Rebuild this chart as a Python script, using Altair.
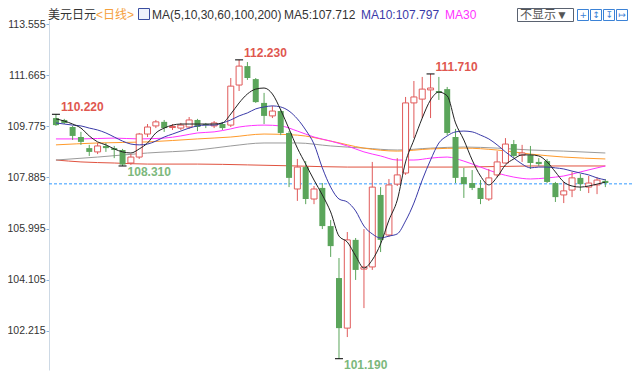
import altair as alt
import pandas as pd

# ---------------- data ----------------
idx = list(range(1, 68))
opens = [110.08, 110.01, 109.75, 109.38, 108.97, 108.83, 109.05, 108.97, 108.90, 108.42,
         108.64, 109.49, 109.79, 109.94, 109.73, 109.71, 109.75, 110.01, 109.86, 109.79,
         109.86, 109.82, 111.30, 112.00, 111.52, 110.64, 110.16, 110.34, 109.53, 107.46,
         108.27, 107.09, 107.50, 106.09, 104.17, 102.32, 105.58, 104.50, 104.58, 107.24,
         105.76, 107.64, 108.05, 110.64, 110.78, 111.12, 111.08, 111.15, 109.38, 107.90,
         107.68, 107.50, 107.09, 107.98, 108.42, 109.12, 108.71, 108.71, 108.46, 108.49,
         107.68, 107.24, 107.42, 107.87, 107.53, 107.61, 107.76]
closes = [109.82, 109.90, 109.42, 109.20, 108.83, 109.05, 108.97, 108.90, 108.36, 108.64,
          109.49, 109.75, 109.94, 109.71, 109.77, 109.82, 110.01, 109.75, 109.82, 109.90,
          109.71, 111.26, 112.00, 111.56, 110.67, 110.16, 110.34, 109.53, 107.87, 108.27,
          107.09, 107.46, 106.09, 105.35, 102.32, 105.58, 104.47, 104.58, 107.53, 105.58,
          107.61, 107.98, 110.64, 110.86, 111.15, 111.19, 111.01, 109.53, 107.87, 107.64,
          107.50, 107.09, 107.87, 108.46, 109.12, 108.68, 108.79, 108.42, 108.38, 107.72,
          107.16, 107.39, 107.87, 107.64, 107.68, 107.79, 107.68]
highs = [110.22, 110.05, 109.79, 109.57, 109.09, 109.16, 109.16, 109.05, 108.94, 108.75,
         109.53, 109.86, 110.01, 110.01, 109.86, 109.90, 110.12, 110.05, 109.90, 109.97,
         109.94, 111.56, 112.23, 112.15, 111.56, 111.01, 110.53, 110.42, 109.60, 108.57,
         108.49, 107.57, 107.68, 106.31, 104.91, 105.87, 105.65, 105.98, 108.46, 107.53,
         107.83, 108.60, 110.86, 111.45, 111.60, 111.71, 111.60, 111.23, 109.68, 108.24,
         108.16, 107.79, 108.20, 108.86, 109.34, 109.27, 109.09, 109.05, 108.60, 108.57,
         107.72, 107.72, 108.09, 108.01, 107.94, 107.90, 107.83]
lows = [109.79, 109.86, 109.27, 109.09, 108.68, 108.75, 108.83, 108.60, 108.31, 108.35,
        108.57, 109.38, 109.71, 109.57, 109.64, 109.64, 109.68, 109.60, 109.71, 109.71,
        109.64, 109.75, 111.08, 111.49, 110.64, 109.86, 110.08, 109.45, 107.53, 107.02,
        106.90, 106.90, 105.98, 104.95, 101.19, 101.99, 104.10, 103.06, 104.47, 105.13,
        105.69, 107.57, 107.98, 109.34, 110.08, 110.08, 110.75, 109.45, 107.68, 107.13,
        107.42, 106.90, 107.02, 107.90, 108.40, 108.60, 108.46, 108.20, 108.31, 107.68,
        106.98, 106.94, 107.16, 107.39, 107.31, 107.27, 107.53]

ma5 = [110.05, 109.97, 109.86, 109.71, 109.42, 109.20, 109.09, 108.94, 108.83, 108.79,
       108.94, 109.16, 109.53, 109.71, 109.82, 109.86, 109.86, 109.86, 109.86, 109.86,
       109.90, 110.23, 110.64, 110.97, 111.15, 111.19, 110.97, 110.38, 109.68, 108.97,
       108.38, 107.79, 107.24, 106.61, 105.72, 105.50, 104.99, 104.54, 104.84, 105.43,
       106.31, 107.05, 108.46, 109.27, 110.08, 110.75, 111.04, 110.90, 109.90, 109.27,
       108.53, 107.94, 107.61, 107.90, 108.35, 108.57, 108.72, 108.72, 108.68, 108.46,
       108.09, 107.72, 107.57, 107.53, 107.57, 107.64, 107.712]
ma10 = [109.90, 109.86, 109.82, 109.79, 109.71, 109.64, 109.53, 109.38, 109.23, 109.12,
        109.09, 109.12, 109.23, 109.38, 109.49, 109.60, 109.71, 109.79, 109.82, 109.82,
        109.90, 110.01, 110.16, 110.27, 110.42, 110.49, 110.53, 110.49, 110.34, 110.05,
        109.64, 109.12, 108.24, 107.53, 107.09, 106.98, 106.65, 106.09, 105.80, 105.65,
        105.72, 105.80, 106.28, 106.94, 107.79, 108.53, 109.16, 109.42, 109.57, 109.60,
        109.57, 109.45, 109.31, 109.09, 108.83, 108.60, 108.38, 108.24, 108.27, 108.27,
        108.24, 108.20, 108.12, 108.05, 107.98, 107.87, 107.797]
ma30_at = [1, 4, 8, 11, 14, 16, 18, 20, 22, 23, 26, 28, 30, 32, 34, 36, 38, 40, 42, 44,
           46, 48, 50, 52, 54, 56, 58, 60, 62, 64, 66, 67]
ma30 = [109.31, 109.31, 109.34, 109.31, 109.34, 109.42, 109.53, 109.57, 109.68, 109.75,
        109.82, 109.79, 109.60, 109.38, 109.23, 109.05, 108.83, 108.68, 108.53, 108.53,
        108.60, 108.64, 108.49, 108.27, 108.05, 107.90, 107.83, 107.87, 107.94, 108.09,
        108.24, 108.31]
ma60_at = [1, 6, 12, 18, 22, 26, 30, 34, 38, 42, 46, 50, 54, 58, 62, 67]
ma60 = [109.09, 109.16, 109.20, 109.31, 109.38, 109.49, 109.45, 109.23, 108.97, 108.86,
        108.94, 108.97, 108.90, 108.75, 108.64, 108.57]
ma100_at = [1, 6, 12, 18, 22, 26, 30, 34, 38, 42, 46, 50, 54, 58, 62, 67]
ma100 = [108.53, 108.64, 108.79, 108.90, 109.05, 109.16, 109.16, 109.05, 108.97, 108.90,
         108.97, 109.01, 108.97, 108.90, 108.86, 108.79]
ma200_at = [1, 4, 8, 12, 18, 24, 30, 36, 42, 50, 58, 67]
ma200 = [108.53, 108.46, 108.42, 108.38, 108.38, 108.35, 108.31, 108.27, 108.27, 108.27,
         108.31, 108.31]

current_price = 107.65
y_ticks = [102.215, 104.105, 105.995, 107.885, 109.775, 111.665, 113.555]
high_mark_at = [1, 23, 46]
high_mark_val = [110.22, 112.23, 111.71]
low_mark_at = [9, 35]
low_mark_val = [108.31, 101.19]

# ---------------- styling ----------------
FONT = "Liberation Sans, Noto Sans CJK SC, sans-serif"
RED = "#e05a5a"
GREEN = "#5ba55b"
LEFT = 49   # page x of plot left
TOP = 20    # page y of plot top

candles = pd.DataFrame({"i": idx, "open": opens, "high": highs, "low": lows, "close": closes})
up = candles[candles["close"] >= candles["open"]]
dn = candles[candles["close"] < candles["open"]]

X = alt.X("i:Q", scale=alt.Scale(domain=[0.764, 69.6], nice=False, zero=False), axis=None)
YS = alt.Scale(domain=[100.773, 113.703], nice=False, zero=False)
YAX = alt.Axis(values=y_ticks, format=".3f", title=None, grid=False,
               labelFont="Liberation Sans", labelFontSize=10.5, labelColor="#333333",
               labelPadding=1, tickSize=3, tickColor="#8db4dd", domainColor="#cdd9e5")


def Y(f):
    return alt.Y(f, type="quantitative", scale=YS, axis=YAX)


def ma_line(at, vals, color):
    df = pd.DataFrame({"i": at, "v": vals})
    return alt.Chart(df).mark_line(color=color, strokeWidth=1, interpolate="monotone").encode(
        x=X, y=Y("v"))


layers = []
layers.append(ma_line(ma200_at, ma200, "#e0523f"))
layers.append(ma_line(ma100_at, ma100, "#9a9a9a"))
layers.append(ma_line(ma60_at, ma60, "#ff9a2a"))
layers.append(ma_line(ma30_at, ma30, "#ff33ff"))

layers.append(alt.Chart(pd.DataFrame({"p": [current_price]})).mark_rule(
    color="#3399ff", strokeDash=[3, 2], strokeWidth=1).encode(y=Y("p")))

layers.append(alt.Chart(up).mark_rule(color=RED, strokeWidth=1).encode(x=X, y=Y("low"), y2="high"))
layers.append(alt.Chart(dn).mark_rule(color=GREEN, strokeWidth=1).encode(x=X, y=Y("low"), y2="high"))
layers.append(alt.Chart(up).mark_bar(size=6, fill="white", stroke=RED, strokeWidth=1).encode(
    x=X, y=Y("open"), y2="close"))
layers.append(alt.Chart(dn).mark_bar(size=6, color=GREEN).encode(x=X, y=Y("open"), y2="close"))

layers.append(ma_line(idx, ma10, "#3a3aa8"))
layers.append(ma_line(idx, ma5, "#222222"))

hm = pd.DataFrame({"i": high_mark_at, "v": high_mark_val})
lm = pd.DataFrame({"i": low_mark_at, "v": low_mark_val})
for df in (hm, lm):
    layers.append(alt.Chart(df).mark_point(shape="M-1,0L1,0", size=64, color="black",
                                           filled=False, strokeWidth=1, opacity=1).encode(x=X, y=Y("v")))
layers.append(alt.Chart(hm).mark_text(align="left", baseline="middle", dx=5, dy=-7, font=FONT,
                                      fontSize=12, fontWeight="bold", color="#e0574f").encode(
    x=X, y=Y("v"), text=alt.Text("v:Q", format=".3f")))
layers.append(alt.Chart(lm).mark_text(align="left", baseline="middle", dx=5, dy=6, font=FONT,
                                      fontSize=12, fontWeight="bold", color="#7cb87c").encode(
    x=X, y=Y("v"), text=alt.Text("v:Q", format=".3f")))


def htext(s, px, color, py=14.5, size=12, font=FONT):
    return alt.Chart(pd.DataFrame({"t": [s]})).mark_text(
        align="left", baseline="middle", font=font, fontSize=size, color=color).encode(
        text="t:N", x=alt.value(px - LEFT), y=alt.value(py - TOP))


def hrect(x1, x2, y1, y2, stroke, fill="white"):
    return alt.Chart(pd.DataFrame({"a": [0]})).mark_rect(stroke=stroke, fill=fill, strokeWidth=1).encode(
        x=alt.value(x1 - LEFT), x2=alt.value(x2 - LEFT), y=alt.value(y1 - TOP), y2=alt.value(y2 - TOP))


layers.append(htext("美元日元", 48, "#333333"))
layers.append(htext("<日线>", 96, "#f5a03c"))
layers.append(hrect(138.5, 149.5, 8.5, 19.5, "#3a4ea0", "#eef2fb"))
layers.append(htext("MA(5,10,30,60,100,200)", 152, "#333333"))
layers.append(htext("MA5:107.712", 284, "#333333"))
layers.append(htext("MA10:107.797", 361, "#3a3aa8"))
layers.append(htext("MA30", 445, "#ff33ff"))
layers.append(hrect(517.5, 573.5, 8.5, 21.5, "#5a6270"))
layers.append(htext("不显示▼", 520, "#555555", py=15))
for bx, g in zip([577, 590, 603, 616], ["+", "↕", "↧", "↦"]):
    layers.append(hrect(bx + 0.5, bx + 11.5, 9.5, 20.5, "#3b82d6"))
    layers.append(htext(g, bx + 2.5, "#3b82d6", py=15, size=9, font="DejaVu Sans"))

chart = alt.layer(*layers).properties(
    width=583, height=350,
    autosize=alt.AutoSizeParams(type="none"),
    padding={"left": 41, "top": 12, "right": 0, "bottom": 2},
    background="white",
).configure_view(strokeWidth=0)

chart.save("out.html", embed_options={"renderer": "svg", "actions": False})
